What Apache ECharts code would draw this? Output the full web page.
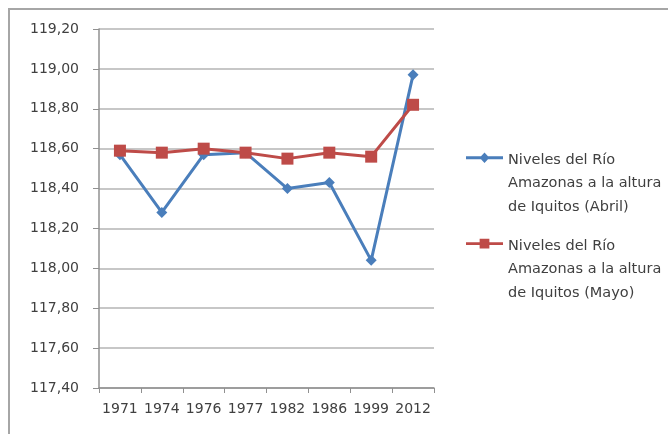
<!DOCTYPE html>
<html>
<head>
<meta charset="utf-8">
<script src="https://cdn.jsdelivr.net/npm/echarts@6/dist/echarts.min.js"></script>
<style>
  html, body { margin: 0; padding: 0; background: #fff; }
  #chart { width: 668px; height: 434px; }
</style>
</head>
<body>
<div id="chart"></div>
<script>
// Years measured
var years = ['1971', '1974', '1976', '1977', '1982', '1986', '1999', '2012'];
// River level (m a.s.l.) in April
var abril = [118.57, 118.28, 118.57, 118.58, 118.40, 118.43, 118.04, 118.97];
// River level (m a.s.l.) in May
var mayo = [118.59, 118.58, 118.60, 118.58, 118.55, 118.58, 118.56, 118.82];

var nameAbril = 'Niveles del Río Amazonas a la altura de Iquitos (Abril)';
var nameMayo = 'Niveles del Río Amazonas a la altura de Iquitos (Mayo)';

var chart = echarts.init(document.getElementById('chart'));
var font = 'DejaVu Sans';

// Legend icons: line with marker placed beside the first text line
// (a tiny point at the bottom keeps the path box as tall as the item)
var iconDiamond = 'path://M0,10h38v3h-38z M19,6l5,5.5l-5,5.5l-5,-5.5z M0,70h0.01v0.01h-0.01z';
var iconSquare = 'path://M0,10h38v3h-38z M14,6.5h10v10h-10z M0,70h0.01v0.01h-0.01z';

chart.setOption({
  animation: false,
  backgroundColor: '#fff',
  textStyle: { fontFamily: font },
  graphic: [
    { type: 'line', shape: { x1: 8, y1: 9, x2: 668, y2: 9 }, style: { stroke: '#a6a6a6', lineWidth: 2 } },
    { type: 'line', shape: { x1: 9, y1: 8, x2: 9, y2: 434 }, style: { stroke: '#a6a6a6', lineWidth: 2 } }
  ],
  grid: { left: 99, right: 234, top: 29, bottom: 46 },
  legend: {
    orient: 'vertical',
    left: 461,
    top: 143,
    itemWidth: 37,
    itemHeight: 70,
    itemGap: 15,
    textStyle: { fontFamily: font, fontSize: 14.5, color: '#404040', lineHeight: 23.7 },
    formatter: function (n) {
      return n === nameAbril
        ? 'Niveles del Río\nAmazonas a la altura\nde Iquitos (Abril)'
        : 'Niveles del Río\nAmazonas a la altura\nde Iquitos (Mayo)';
    },
    data: [
      { name: nameAbril, icon: iconDiamond },
      { name: nameMayo, icon: iconSquare }
    ]
  },
  xAxis: {
    type: 'category',
    data: years,
    boundaryGap: true,
    axisLine: { lineStyle: { color: '#909090', width: 1.5 } },
    axisTick: { show: true, length: 5, alignWithLabel: false, lineStyle: { color: '#909090' } },
    axisLabel: { interval: 0, color: '#404040', fontSize: 14, fontFamily: font, margin: 14 }
  },
  yAxis: {
    type: 'value',
    min: 117.4,
    max: 119.2,
    interval: 0.2,
    axisLine: { show: true, lineStyle: { color: '#909090', width: 1.5 } },
    axisTick: { show: true, inside: false, length: 6, lineStyle: { color: '#909090' } },
    splitLine: { lineStyle: { color: '#b4b4b4', width: 1.5 } },
    axisLabel: {
      color: '#404040', fontSize: 14, fontFamily: font, margin: 20,
      formatter: function (v) { return v.toFixed(2).replace('.', ','); }
    }
  },
  series: [
    {
      name: nameAbril,
      type: 'line',
      data: abril,
      color: '#4a7ebb',
      lineStyle: { width: 3 },
      symbol: 'diamond',
      symbolSize: 11,
      itemStyle: { color: '#4a7ebb' },
      z: 2
    },
    {
      name: nameMayo,
      type: 'line',
      data: mayo,
      color: '#be4b48',
      lineStyle: { width: 3 },
      symbol: 'rect',
      symbolSize: 12,
      itemStyle: { color: '#be4b48' },
      z: 3
    }
  ]
});
</script>
</body>
</html>
